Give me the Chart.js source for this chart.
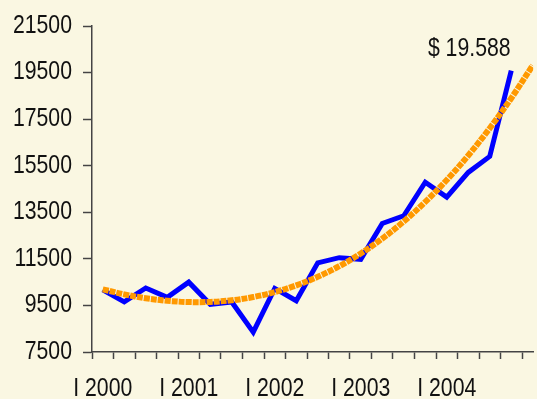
<!DOCTYPE html>
<html>
<head>
<meta charset="utf-8">
<script src="https://cdn.jsdelivr.net/npm/chart.js@4.4.1/dist/chart.umd.min.js"></script>
<style>
  html, body { margin: 0; padding: 0; background: #FAF7E2; }
  #wrap { width: 537px; height: 399px; position: relative; }
</style>
</head>
<body>
<div id="wrap"><canvas id="chart"></canvas></div>
<script>
// Quarterly periods, 2000 to 2004
const quarters = [
  'I 2000', 'II 2000', 'III 2000', 'IV 2000',
  'I 2001', 'II 2001', 'III 2001', 'IV 2001',
  'I 2002', 'II 2002', 'III 2002', 'IV 2002',
  'I 2003', 'II 2003', 'III 2003', 'IV 2003',
  'I 2004', 'II 2004', 'III 2004', 'IV 2004'
];

// Quarterly values (US$)
const sales = [
  10170, 9650, 10250, 9850,
  10500, 9550, 9650, 8350,
  10230, 9700, 11330, 11550,
  11480, 13020, 13350, 14790,
  14150, 15210, 15900, 19588
];

// Trend curve, one value per quarter plus one period ahead
const trend = [
  10190, 9975, 9810, 9700,
  9645, 9650, 9720, 9860,
  10070, 10360, 10730, 11185,
  11730, 12370, 13105, 13945,
  14885, 15940, 17110, 18400,
  19810
];

// Value axis ticks
const yTicks = [7500, 9500, 11500, 13500, 15500, 17500, 19500, 21500];

const FONT = "'Liberation Sans', Arial, sans-serif";
const AXIS = '#444444';
const TEXT_CONDENSE = 0.85;

function formatMoney(v) {
  return '$ ' + String(v).replace(/\B(?=(\d{3})+(?!\d))/g, '.');
}

// Narrow lettering: every label on this canvas is squeezed horizontally
const canvas = document.getElementById('chart');
const ctx2d = canvas.getContext('2d');
const baseFillText = ctx2d.fillText.bind(ctx2d);
ctx2d.fillText = function (text, x, y, maxWidth) {
  const w = this.measureText(text).width * TEXT_CONDENSE;
  return baseFillText(text, x, y, maxWidth !== undefined ? Math.min(maxWidth, w) : w);
};

// Writes the latest value above the end of the sales line
const lastValueLabel = {
  id: 'lastValueLabel',
  afterDatasetsDraw(chart) {
    const meta = chart.getDatasetMeta(0);
    const pt = meta.data[meta.data.length - 1];
    const ctx = chart.ctx;
    ctx.save();
    ctx.font = '25px ' + FONT;
    ctx.fillStyle = '#111111';
    ctx.textAlign = 'center';
    ctx.textBaseline = 'middle';
    ctx.fillText(formatMoney(sales[sales.length - 1]), pt.x - 42, pt.y - 21);
    ctx.restore();
  }
};

const salesPoints = sales.map((v, i) => ({ x: i + 1, y: v }));
const trendPoints = trend.map((v, i) => ({ x: i + 1, y: v }));

new Chart(canvas, {
  type: 'line',
  data: {
    datasets: [
      {
        label: 'Ventas',
        data: salesPoints,
        borderColor: '#0000FF',
        borderWidth: 5,
        pointRadius: 0,
        tension: 0,
        order: 1
      },
      {
        label: 'Tendencia',
        data: trendPoints,
        borderColor: '#FF9900',
        borderWidth: 6,
        borderDash: [6, 1],
        borderCapStyle: 'butt',
        pointRadius: 0,
        tension: 0.35,
        order: 0
      }
    ]
  },
  options: {
    responsive: true,
    maintainAspectRatio: false,
    animation: false,
    layout: { padding: { top: 25, right: 0, bottom: 0, left: 0 } },
    plugins: {
      legend: { display: false },
      tooltip: { enabled: false }
    },
    scales: {
      x: {
        type: 'linear',
        min: 0.5,
        max: 21.02,
        afterBuildTicks(scale) {
          const t = [];
          for (let i = 0; i <= quarters.length; i++) t.push({ value: i + 0.5 });
          quarters.forEach((q, i) => { if (q.startsWith('I ')) t.push({ value: i + 1 }); });
          t.sort((a, b) => a.value - b.value);
          scale.ticks = t;
        },
        afterFit(scale) { scale.height = 47; },
        grid: {
          drawOnChartArea: false,
          drawTicks: true,
          tickLength: 7,
          tickWidth: 1.5,
          tickColor: (c) => (c.tick && Number.isInteger(c.tick.value)) ? 'rgba(0,0,0,0)' : AXIS
        },
        border: { display: true, color: AXIS, width: 1.5 },
        ticks: {
          autoSkip: false,
          maxRotation: 0,
          padding: 15,
          color: '#111111',
          font: { family: FONT, size: 25 },
          callback(value) {
            if (!Number.isInteger(value)) return '';
            const q = quarters[value - 1];
            return (q && q.startsWith('I ')) ? q : '';
          }
        }
      },
      y: {
        type: 'linear',
        min: 7500,
        max: 21500,
        afterBuildTicks(scale) { scale.ticks = yTicks.map(v => ({ value: v })); },
        afterFit(scale) { scale.width = 92; },
        grid: {
          drawOnChartArea: false,
          drawTicks: true,
          tickLength: 9,
          tickWidth: 1.5,
          tickColor: AXIS
        },
        border: { display: true, color: AXIS, width: 1.5 },
        ticks: {
          padding: 11,
          color: '#111111',
          font: { family: FONT, size: 25 },
          callback(value) { return String(value); }
        }
      }
    }
  },
  plugins: [lastValueLabel]
});
</script>
</body>
</html>
